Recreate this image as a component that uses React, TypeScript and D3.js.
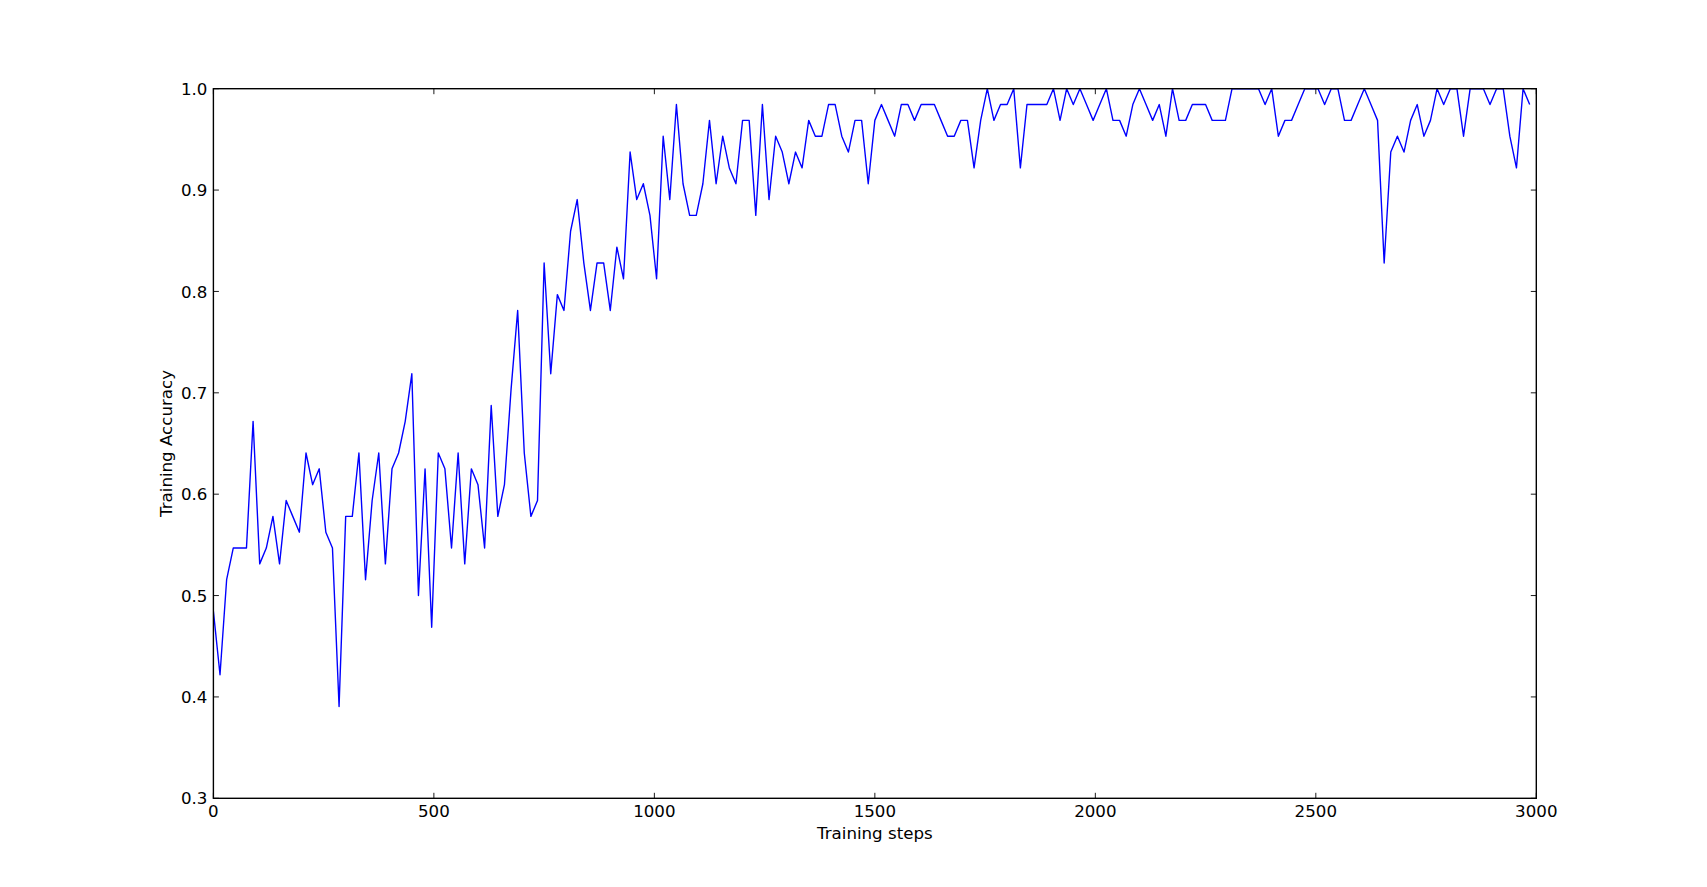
import React from "react";
import * as d3 from "d3";

// Training accuracy logged every 15 steps (batch of 64)
const LOG_EVERY = 15;
const accuracy: number[] = [
  0.484375, 0.421875, 0.515625, 0.546875, 0.546875, 0.546875, 0.671875, 0.53125, 0.546875, 0.578125,
  0.53125, 0.59375, 0.578125, 0.5625, 0.640625, 0.609375, 0.625, 0.5625, 0.546875, 0.390625,
  0.578125, 0.578125, 0.640625, 0.515625, 0.59375, 0.640625, 0.53125, 0.625, 0.640625, 0.671875,
  0.71875, 0.5, 0.625, 0.46875, 0.640625, 0.625, 0.546875, 0.640625, 0.53125, 0.625,
  0.609375, 0.546875, 0.6875, 0.578125, 0.609375, 0.703125, 0.78125, 0.640625, 0.578125, 0.59375,
  0.828125, 0.71875, 0.796875, 0.78125, 0.859375, 0.890625, 0.828125, 0.78125, 0.828125, 0.828125,
  0.78125, 0.84375, 0.8125, 0.9375, 0.890625, 0.90625, 0.875, 0.8125, 0.953125, 0.890625,
  0.984375, 0.90625, 0.875, 0.875, 0.90625, 0.96875, 0.90625, 0.953125, 0.921875, 0.90625,
  0.96875, 0.96875, 0.875, 0.984375, 0.890625, 0.953125, 0.9375, 0.90625, 0.9375, 0.921875,
  0.96875, 0.953125, 0.953125, 0.984375, 0.984375, 0.953125, 0.9375, 0.96875, 0.96875, 0.90625,
  0.96875, 0.984375, 0.96875, 0.953125, 0.984375, 0.984375, 0.96875, 0.984375, 0.984375, 0.984375,
  0.96875, 0.953125, 0.953125, 0.96875, 0.96875, 0.921875, 0.96875, 1.0, 0.96875, 0.984375,
  0.984375, 1.0, 0.921875, 0.984375, 0.984375, 0.984375, 0.984375, 1.0, 0.96875, 1.0,
  0.984375, 1.0, 0.984375, 0.96875, 0.984375, 1.0, 0.96875, 0.96875, 0.953125, 0.984375,
  1.0, 0.984375, 0.96875, 0.984375, 0.953125, 1.0, 0.96875, 0.96875, 0.984375, 0.984375,
  0.984375, 0.96875, 0.96875, 0.96875, 1.0, 1.0, 1.0, 1.0, 1.0, 0.984375,
  1.0, 0.953125, 0.96875, 0.96875, 0.984375, 1.0, 1.0, 1.0, 0.984375, 1.0,
  1.0, 0.96875, 0.96875, 0.984375, 1.0, 0.984375, 0.96875, 0.828125, 0.9375, 0.953125,
  0.9375, 0.96875, 0.984375, 0.953125, 0.96875, 1.0, 0.984375, 1.0, 1.0, 0.953125,
  1.0, 1.0, 1.0, 0.984375, 1.0, 1.0, 0.953125, 0.921875, 1.0, 0.984375,
];
const xTicks: number[] = [0, 500, 1000, 1500, 2000, 2500, 3000];
const yTicks: number[] = [0.3, 0.4, 0.5, 0.6, 0.7, 0.8, 0.9, 1.0];
const xLabel = "Training steps";
const yLabel = "Training Accuracy";

const W = 1707;
const H = 887;
const L = 213.4;
const R = 1536.3;
const T = 88.7;
const B = 798.3;
const FONT = "'DejaVu Sans', sans-serif";
const FS = 16.67;
const TICK = 5.5;

export default function App() {
  const x = d3.scaleLinear().domain([0, 3000]).range([L, R]);
  const y = d3.scaleLinear().domain([0.3, 1.0]).range([B, T]);
  const pts: [number, number][] = accuracy.map((v, i) => [i * LOG_EVERY, v]);
  const line = d3
    .line<[number, number]>()
    .x((d) => x(d[0]))
    .y((d) => y(d[1]));

  return (
    <div style={{ position: "fixed", left: 0, top: 0 }}>
      <svg width={W} height={H} style={{ display: "block", background: "#fff" }}>
        <rect x={0} y={0} width={W} height={H} fill="#fff" />
        <defs>
          <clipPath id="plotclip">
            <rect x={L} y={T} width={R - L} height={B - T} />
          </clipPath>
        </defs>
        <path
          d={line(pts) || ""}
          fill="none"
          stroke="#0000ff"
          strokeWidth={1.39}
          strokeLinejoin="round"
          clipPath="url(#plotclip)"
        />
        {xTicks.map((t) => (
          <g key={"xt" + t}>
            <line x1={x(t)} x2={x(t)} y1={B} y2={B - TICK} stroke="#000" strokeWidth={0.9} />
            <line x1={x(t)} x2={x(t)} y1={T} y2={T + TICK} stroke="#000" strokeWidth={0.9} />
            <text
              x={x(t)}
              y={B + 18.3}
              textAnchor="middle"
              fontFamily={FONT}
              fontSize={FS}
              fill="#000"
            >
              {String(t)}
            </text>
          </g>
        ))}
        {yTicks.map((t) => (
          <g key={"yt" + t}>
            <line x1={L} x2={L + TICK} y1={y(t)} y2={y(t)} stroke="#000" strokeWidth={0.9} />
            <line x1={R} x2={R - TICK} y1={y(t)} y2={y(t)} stroke="#000" strokeWidth={0.9} />
            <text
              x={L - 6}
              y={y(t) + 6.1}
              textAnchor="end"
              fontFamily={FONT}
              fontSize={FS}
              fill="#000"
            >
              {t.toFixed(1)}
            </text>
          </g>
        ))}
        <rect
          x={L}
          y={T}
          width={R - L}
          height={B - T}
          fill="none"
          stroke="#000"
          strokeWidth={1.39}
        />
        <text
          x={(L + R) / 2}
          y={838.5}
          textAnchor="middle"
          fontFamily={FONT}
          fontSize={FS}
          fill="#000"
        >
          {xLabel}
        </text>
        <text
          transform={`translate(171.5, ${(T + B) / 2}) rotate(-90)`}
          textAnchor="middle"
          fontFamily={FONT}
          fontSize={FS}
          fill="#000"
        >
          {yLabel}
        </text>
      </svg>
    </div>
  );
}
